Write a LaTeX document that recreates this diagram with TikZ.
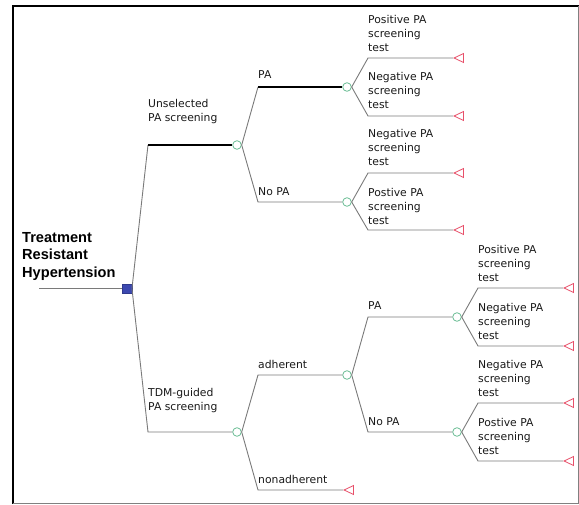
\documentclass[tikz,border=0pt]{standalone}
\usepackage{fontspec}
\setmainfont{DejaVu Sans}
\newfontfamily\titlefont{Liberation Sans}
\usetikzlibrary{shapes.geometric}
\definecolor{lngray}{HTML}{7A7A7A}
\definecolor{chgreen}{HTML}{6DBE96}
\definecolor{termred}{HTML}{E8506A}
\definecolor{decblue}{HTML}{3C48B0}
\tikzset{
  ln/.style={draw=lngray, line width=0.9pt},
  sel/.style={draw=black, line width=1.8pt},
  chance/.style={circle, draw=chgreen, fill=white, line width=0.8pt, minimum size=8.6pt, inner sep=0pt},
  term/.style={isosceles triangle, shape border rotate=180, isosceles triangle stretches, draw=termred, fill=white, line width=0.8pt, minimum width=9pt, minimum height=9.5pt, inner sep=0pt, anchor=apex},
  dec/.style={rectangle, draw=decblue!80!black, fill=decblue, minimum size=9.5pt, inner sep=0pt},
  lab/.style={anchor=west, inner sep=0pt, align=left, font=\fontsize{10.8}{14}\selectfont, text=black!90},
}
\begin{document}
\begin{tikzpicture}[x=1pt,y=-1pt]
\useasboundingbox (0,0) rectangle (579,505);
% frame
\draw[black, line width=2.4pt] (13,504) -- (13,6) -- (579,6);
\draw[gray, line width=0.9pt] (578,6) -- (578,503.5) -- (13,503.5);

% title
\node[anchor=west, inner sep=0pt, align=left, font=\titlefont\bfseries\fontsize{14.6}{17.5}\selectfont] (title) at (22,256) {Treatment\\Resistant\\Hypertension};

% root
\node[dec] (R) at (127,288.5) {};
\coordinate (Rin) at (39,288.5);
\draw[ln] (Rin) -- (R.west);

% level 1
\coordinate (a1) at (148,145);
\node[chance] (C1) at (237,145) {};
\coordinate (b1) at (148,432);
\node[chance] (C2) at (237,432) {};
\draw[ln] (R.east) -- (a1);
\draw[sel] (a1) -- (C1.west);
\draw[ln] (R.east) -- (b1) -- (C2.west);
\node[lab] (l1) at (148,112) {Unselected\\PA screening};
\node[lab] (l2) at (148,401) {TDM-guided\\PA screening};

% C1 branches
\coordinate (a2) at (258,87);
\node[chance] (C3) at (347,87) {};
\coordinate (b2) at (258,202);
\node[chance] (C4) at (347,202) {};
\draw[ln] (C1.east) -- (a2);
\draw[sel] (a2) -- (C3.west);
\draw[ln] (C1.east) -- (b2) -- (C4.west);
\node[lab] (l3) at (258,75) {PA};
\node[lab] (l4) at (258,192) {No PA};

% C3 leaves
\coordinate (a3) at (368,58);
\node[term] (T1) at (453,58) {};
\coordinate (b3) at (368,116);
\node[term] (T2) at (453,116) {};
\draw[ln] (C3.east) -- (a3) -- (T1.apex);
\draw[ln] (C3.east) -- (b3) -- (T2.apex);
\node[lab] (l5) at (368,33) {Positive PA\\screening\\test};
\node[lab] (l6) at (368,90) {Negative PA\\screening\\test};

% C4 leaves
\coordinate (a4) at (368,173);
\node[term] (T3) at (453,173) {};
\coordinate (b4) at (368,230);
\node[term] (T4) at (453,230) {};
\draw[ln] (C4.east) -- (a4) -- (T3.apex);
\draw[ln] (C4.east) -- (b4) -- (T4.apex);
\node[lab] (l7) at (368,147) {Negative PA\\screening\\test};
\node[lab] (l8) at (368,206) {Postive PA\\screening\\test};

% C2 branches
\coordinate (a5) at (258,375);
\node[chance] (C5) at (347,375) {};
\coordinate (b5) at (258,490);
\node[term] (T5) at (343,490) {};
\draw[ln] (C2.east) -- (a5) -- (C5.west);
\draw[ln] (C2.east) -- (b5) -- (T5.apex);
\node[lab] (l9) at (258,364) {adherent};
\node[lab] (l10) at (258,479) {nonadherent};

% C5 branches
\coordinate (a6) at (368,317);
\node[chance] (C6) at (457,317) {};
\coordinate (b6) at (368,432);
\node[chance] (C7) at (457,432) {};
\draw[ln] (C5.east) -- (a6) -- (C6.west);
\draw[ln] (C5.east) -- (b6) -- (C7.west);
\node[lab] (l11) at (368,306) {PA};
\node[lab] (l12) at (368,422) {No PA};

% C6 leaves
\coordinate (a7) at (478,288);
\node[term] (T6) at (563,288) {};
\coordinate (b7) at (478,346);
\node[term] (T7) at (563,346) {};
\draw[ln] (C6.east) -- (a7) -- (T6.apex);
\draw[ln] (C6.east) -- (b7) -- (T7.apex);
\node[lab] (l13) at (478,263) {Positive PA\\screening\\test};
\node[lab] (l14) at (478,321) {Negative PA\\screening\\test};

% C7 leaves
\coordinate (a8) at (478,403);
\node[term] (T8) at (563,403) {};
\coordinate (b8) at (478,461);
\node[term] (T9) at (563,461) {};
\draw[ln] (C7.east) -- (a8) -- (T8.apex);
\draw[ln] (C7.east) -- (b8) -- (T9.apex);
\node[lab] (l15) at (478,378) {Negative PA\\screening\\test};
\node[lab] (l16) at (478,436) {Postive PA\\screening\\test};
\end{tikzpicture}
\end{document}
